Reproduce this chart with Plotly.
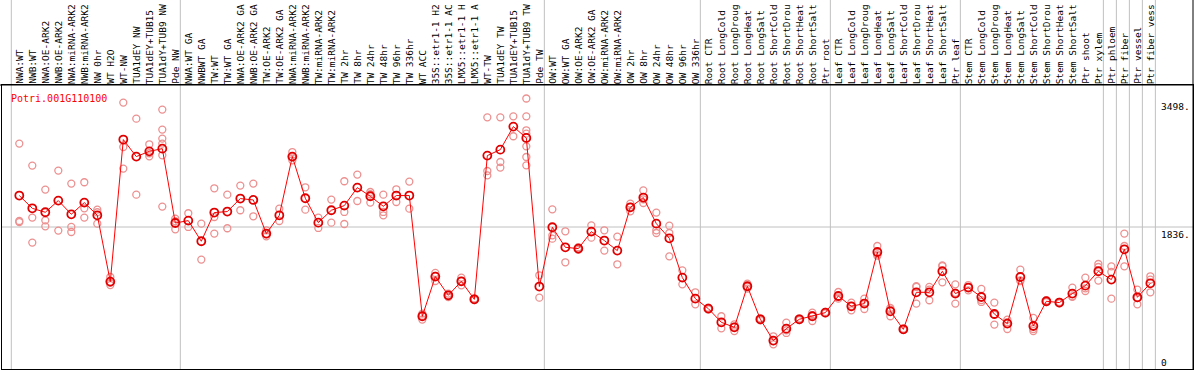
import plotly.graph_objects as go

labels = ["NWA:WT","NWB:WT","NWA:OE-ARK2","NWB:OE-ARK2","NWA:miRNA-ARK2","NWB:miRNA-ARK2","NW 0hr","WT H2O","WT-NW","TUA1dEY NW","TUA1dEY+TUB15","TUA1dY+TUB9 NW","Pde NW",
          "NWA:WT GA","NWBWT GA","TW:WT","TW:WT GA","NWA:OE-ARK2 GA","NWB:OE-ARK2 GA","TW:OE-ARK2","TW:OE-ARK2 GA","NWA:miRNA-ARK2","NWB:miRNA-ARK2","TW:miRNA-ARK2","TW:miRNA-ARK2",
          "TW 2hr","TW 8hr","TW 24hr","TW 48hr","TW 96hr","TW 336hr","WT ACC","35S::etr1-1 H2","35S::etr1-1 AC","LMX5::etr1-1 H","LMX5::etr1-1 A","WT-TW","TUA1dEY TW","TUA1dEY+TUB15","TUA1dY+TUB9 TW","Pde TW",
          "OW:WT","OW:WT GA","OW:OE-ARK2","OW:OE-ARK2 GA","OW:miRNA-ARK2","OW:miRNA-ARK2","OW 2hr","OW 8hr","OW 24hr","OW 48hr","OW 96hr","OW 336hr",
          "Root CTR","Root LongCold","Root LongDroug","Root LongHeat","Root LongSalt","Root ShortCold","Root ShortDrou","Root ShortHeat","Root ShortSalt","Ptr root",
          "Leaf CTR","Leaf LongCold","Leaf LongDroug","Leaf LongHeat","Leaf LongSalt","Leaf ShortCold","Leaf ShortDrou","Leaf ShortHeat","Leaf ShortSalt","Ptr leaf",
          "Stem CTR","Stem LongCold","Stem LongDroug","Stem LongHeat","Stem LongSalt","Stem ShortCold","Stem ShortDrou","Stem ShortHeat","Stem ShortSalt","Ptr shoot",
          "Ptr xylem","Ptr phloem","Ptr fiber","Ptr vessel","Ptr fiber vess"]

means = [2243,2078,2027,2178,2001,2152,1988,1130,2967,2747,2815,2850,1888,
         1919,1652,2023,2036,2204,2186,1751,1988,2747,2208,1893,2053,
         2113,2346,2234,2104,2243,2243,682,1195,953,1134,901,2760,2837,3135,2988,1066,
         1833,1574,1557,1777,1661,1531,2091,2217,1880,1690,1182,910,
         781,604,539,1070,643,367,522,643,682,729,
         944,811,846,1513,746,513,992,992,1264,975,
         1053,931,711,587,1190,556,876,859,975,1078,
         1264,1156,1548,927,1108]

replicates = [[2915,1914,1900],[2631,1958,1635],[2320,1923,1845],[2566,1790],[2398,1837,1772],[2415,1958,2078],
              [2061,2027,1880],[1190,1086,1115],[3445,2871,2592],[3238,2255],[2906,2790,2751],[3355,3096,2980,2915,2764,2100],
              [1945,1807,1912],[2014,1837],[1880,1415],[2337,1966,1751],[2255,1820],[2372,2053],[2398,1975],[1794,1716,1743],
              [2074,1914],[2806,2699,2736],[2350,2061],[1958,1824],[2191,1893],[2428,2031,1875],[2514,2173],[2289,2152,2260],
              [2255,2031,1988],[2324,2160],[2424,2074],[716,639,690],[1242,1138,1205],[975,931,953],[1182,1082,1138],
              [901,890,912],[3255,2561,2505],[3255,2677,2605],[3268,3010],[3498,3268,3087,3044,2880,2742,2634],[1212,923],
              [2065,1729,1686],[1781,1380],[1557,1540,1575],[1858,1699],[1794,1531],[1712,1354],[2139,2039,2095],
              [2311,2147,2195],[2023,1794,1759],[1854,1759,1457],[1276,1095],[992,837],
              [781,770,792],[682,526],[578,491,548],[1104,1040,1066],[643,630,656],[423,319,360],[600,466,500],
              [643,632,654],[729,621,695],[729,720,738],
              [996,910,927],[859,759,815],[910,776,852],[1591,1483,1465],[789,682,767],[513,505,521],[1061,846,1070],
              [1061,889,1026],[1341,1121,1330],[1095,846,985],
              [1086,1018,1055],[1035,867,891],[859,574,700],[639,517,605],[1285,1147,1138],[660,491,517],[876,865,887],
              [859,850,868],[1053,940,932],[1182,1009,1043],
              [1358,1319,1143],[1328,1255,910],[1751,1591,1328],[1027,837,917],[1199,1156,992]]

group_ends = [-1, 12, 40, 52, 62, 72, 83, 84, 85, 86, 87]
y_ticks = [0, 1836, 3498]
y_tick_text = ["0", "1836.", "3498."]
title_text = "Potri.001G110100"
y_max = 3498 * 1.05

FONT = "DejaVu Sans Mono"
idx = list(range(len(labels)))
rx, ry = [], []
for i, reps in enumerate(replicates):
    for v in reps:
        rx.append(i)
        ry.append(v)

fig = go.Figure()
fig.add_trace(go.Scatter(x=rx, y=ry, mode="markers",
                         marker=dict(symbol="circle-open", size=7, color="#EC9090", line=dict(width=1.3)),
                         hoverinfo="skip", showlegend=False))
fig.add_trace(go.Scatter(x=idx, y=means, mode="lines+markers",
                         line=dict(color="#FF0000", width=1),
                         marker=dict(symbol="circle-open", size=8, color="#E00000", line=dict(width=1.8)),
                         showlegend=False))

shapes = []
for g in group_ends:
    shapes.append(dict(type="line", xref="x", yref="paper", x0=g + 0.385, x1=g + 0.385, y0=0, y1=1.3,
                       line=dict(color="#C0C0C0", width=1), layer="below"))
shapes.append(dict(type="line", xref="paper", yref="y", x0=0, x1=1, y0=y_max / 2, y1=y_max / 2,
                   line=dict(color="#C0C0C0", width=1), layer="below"))
shapes.append(dict(type="line", xref="paper", yref="paper", x0=1, x1=1, y0=0, y1=1.3,
                   line=dict(color="black", width=1)))
shapes.append(dict(type="line", xref="paper", yref="paper", x0=-0.002, x1=1, y0=1, y1=1,
                   line=dict(color="black", width=1)))

ann = []
for i, lab in enumerate(labels):
    ann.append(dict(x=i, y=1, xref="x", yref="paper", text=lab, textangle=-90, showarrow=False,
                    xanchor="center", yanchor="bottom", yshift=0, borderpad=0,
                    font=dict(family=FONT, size=9.5, color="black")))
for v, t in zip(y_ticks, y_tick_text):
    ann.append(dict(x=0.972, y=v, xref="paper", yref="y", text=t, showarrow=False, borderpad=0,
                    xanchor="left", yanchor="bottom" if v == 0 else "top", yshift=0 if v == 0 else -1,
                    font=dict(family=FONT, size=9.5, color="black")))
ann.append(dict(x=0.006, y=0.98, xref="paper", yref="paper", text=title_text, showarrow=False,
                xanchor="left", yanchor="top", font=dict(family=FONT, size=10, color="#FF0000")))

fig.update_layout(
    width=1194, height=370,
    margin=dict(l=2, r=1, t=85, b=1),
    paper_bgcolor="white", plot_bgcolor="white",
    xaxis=dict(range=[-1.331, 90.28], showgrid=False, zeroline=False, showticklabels=False, ticks="",
               showline=True, linecolor="black", linewidth=1, mirror=True),
    yaxis=dict(range=[0, y_max], showgrid=False, zeroline=False, showticklabels=False, ticks="",
               showline=True, linecolor="black", linewidth=1, mirror=True),
    shapes=shapes, annotations=ann,
)

fig.write_html("out.html", config={"displayModeBar": False},
               post_script="document.body.style.margin='0';")
